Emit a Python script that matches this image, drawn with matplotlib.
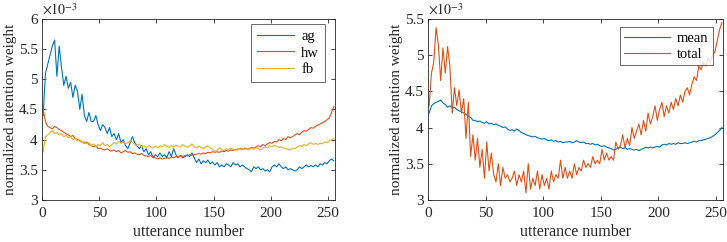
import numpy as np
import matplotlib
matplotlib.use('Agg')
import matplotlib.pyplot as plt

plt.rcParams['font.family'] = ['Liberation Serif', 'DejaVu Serif']
plt.rcParams['mathtext.fontset'] = 'stix'

# utterance index, every second utterance
utt = np.arange(1, 257, 2)

# left panel, values in units of 1e-3
ag = [4.40, 5.10, 5.25, 5.40, 5.55, 5.65, 5.05, 5.55, 5.20, 4.90,
      5.05, 4.85, 4.95, 4.70, 4.90, 4.80, 4.50, 4.75, 4.40, 4.30,
      4.45, 4.30, 4.30, 4.40, 4.25, 4.15, 4.25, 4.20, 4.10, 4.20,
      4.05, 4.10, 4.00, 4.10, 3.95, 4.00, 3.90, 3.85, 3.95, 4.05,
      3.95, 3.90, 3.85, 3.90, 3.80, 3.85, 3.75, 3.80, 3.70, 3.75,
      3.72, 3.78, 3.72, 3.75, 3.70, 3.80, 3.72, 3.85, 3.75, 3.70,
      3.74, 3.70, 3.72, 3.75, 3.72, 3.78, 3.70, 3.62, 3.68, 3.60,
      3.65, 3.62, 3.66, 3.60, 3.63, 3.58, 3.62, 3.55, 3.58, 3.55,
      3.60, 3.58, 3.55, 3.62, 3.58, 3.60, 3.55, 3.58, 3.55, 3.52,
      3.50, 3.47, 3.55, 3.52, 3.55, 3.50, 3.52, 3.48, 3.50, 3.47,
      3.55, 3.58, 3.55, 3.60, 3.55, 3.52, 3.55, 3.50, 3.52, 3.50,
      3.48, 3.50, 3.55, 3.52, 3.55, 3.58, 3.55, 3.57, 3.55, 3.58,
      3.55, 3.60, 3.58, 3.62, 3.60, 3.65, 3.68, 3.65]

hw = [4.50, 4.30, 4.22, 4.20, 4.18, 4.22, 4.20, 4.17, 4.15, 4.12,
      4.10, 4.08, 4.05, 4.07, 4.02, 4.00, 3.98, 3.96, 3.94, 3.96,
      3.92, 3.90, 3.88, 3.90, 3.85, 3.86, 3.84, 3.83, 3.85, 3.82,
      3.81, 3.83, 3.80, 3.82, 3.78, 3.80, 3.82, 3.79, 3.80, 3.77,
      3.78, 3.76, 3.75, 3.77, 3.74, 3.73, 3.72, 3.74, 3.71, 3.70,
      3.68, 3.70, 3.68, 3.69, 3.70, 3.69, 3.71, 3.70, 3.72, 3.71,
      3.73, 3.72, 3.74, 3.73, 3.75, 3.74, 3.75, 3.76, 3.77, 3.76,
      3.78, 3.77, 3.79, 3.78, 3.80, 3.79, 3.80, 3.79, 3.81, 3.80,
      3.82, 3.81, 3.83, 3.82, 3.84, 3.83, 3.85, 3.84, 3.86, 3.85,
      3.84, 3.87, 3.86, 3.88, 3.90, 3.88, 3.92, 3.90, 3.93, 3.95,
      3.94, 3.97, 3.96, 4.00, 3.98, 4.02, 4.00, 4.05, 4.03, 4.05,
      4.08, 4.10, 4.08, 4.12, 4.15, 4.14, 4.17, 4.20, 4.19, 4.22,
      4.24, 4.26, 4.28, 4.30, 4.33, 4.36, 4.45, 4.55]

fb = [3.80, 4.05, 4.08, 4.12, 4.15, 4.10, 4.12, 4.08, 4.10, 4.05,
      4.07, 4.03, 4.05, 4.00, 4.02, 3.98, 4.00, 3.95, 3.97, 3.93,
      3.95, 3.90, 3.93, 3.88, 3.92, 3.90, 3.95, 3.90, 3.92, 3.88,
      3.92, 3.95, 3.93, 3.97, 3.94, 3.96, 3.93, 3.95, 3.98, 3.96,
      3.92, 3.90, 3.93, 3.88, 3.90, 3.87, 3.90, 3.88, 3.86, 3.89,
      3.87, 3.90, 3.88, 3.92, 3.89, 3.87, 3.90, 3.88, 3.91, 3.89,
      3.88, 3.92, 3.89, 3.87, 3.90, 3.93, 3.88, 3.86, 3.89, 3.87,
      3.85, 3.88, 3.90, 3.86, 3.84, 3.80, 3.83, 3.86, 3.84, 3.82,
      3.85, 3.83, 3.86, 3.84, 3.82, 3.85, 3.83, 3.86, 3.84, 3.85,
      3.83, 3.86, 3.84, 3.87, 3.85, 3.83, 3.86, 3.88, 3.86, 3.90,
      3.88, 3.91, 3.89, 3.87, 3.88, 3.86, 3.85, 3.84, 3.83, 3.86,
      3.85, 3.88, 3.90, 3.89, 3.92, 3.90, 3.93, 3.95, 3.92, 3.94,
      3.92, 3.94, 3.93, 3.96, 3.95, 3.98, 4.00, 4.02]

# right panel
mean = [4.20, 4.30, 4.33, 4.35, 4.36, 4.38, 4.34, 4.32, 4.28, 4.30,
        4.27, 4.28, 4.25, 4.23, 4.22, 4.20, 4.18, 4.16, 4.14, 4.10,
        4.10, 4.08, 4.09, 4.07, 4.06, 4.08, 4.05, 4.06, 4.04, 4.05,
        4.03, 4.02, 4.00, 4.01, 3.98, 3.96, 3.97, 3.95, 3.98, 3.96,
        3.93, 3.92, 3.90, 3.89, 3.88, 3.87, 3.88, 3.86, 3.85, 3.84,
        3.85, 3.83, 3.82, 3.83, 3.81, 3.82, 3.80, 3.81, 3.79, 3.80,
        3.80, 3.81, 3.79, 3.80, 3.82, 3.80, 3.79, 3.80, 3.78, 3.78,
        3.77, 3.78, 3.76, 3.77, 3.75, 3.74, 3.75, 3.73, 3.72, 3.71,
        3.69, 3.70, 3.72, 3.73, 3.71, 3.72, 3.70, 3.71, 3.70, 3.69,
        3.70, 3.68, 3.70, 3.71, 3.73, 3.72, 3.73, 3.72, 3.73, 3.74,
        3.73, 3.76, 3.77, 3.76, 3.78, 3.77, 3.78, 3.77, 3.79, 3.78,
        3.78, 3.79, 3.78, 3.79, 3.80, 3.81, 3.80, 3.82, 3.82, 3.83,
        3.84, 3.85, 3.86, 3.88, 3.90, 3.93, 3.96, 4.00]

total = [4.30, 4.75, 4.90, 5.38, 5.15, 4.65, 5.10, 4.75, 5.12, 4.85,
         4.20, 4.55, 4.30, 4.52, 4.20, 4.40, 3.85, 4.35, 3.60, 3.90,
         3.55, 3.85, 3.45, 3.70, 3.30, 3.80, 3.40, 3.65, 3.35, 3.25,
         3.50, 3.20, 3.45, 3.30, 3.35, 3.25, 3.30, 3.40, 3.20, 3.35,
         3.25, 3.40, 3.10, 3.50, 3.15, 3.30, 3.20, 3.40, 3.15, 3.35,
         3.20, 3.30, 3.15, 3.40, 3.25, 3.35, 3.30, 3.55, 3.30, 3.45,
         3.30, 3.40, 3.30, 3.50, 3.35, 3.45, 3.40, 3.55, 3.45, 3.50,
         3.45, 3.60, 3.50, 3.55, 3.50, 3.70, 3.55, 3.65, 3.55, 3.60,
         3.55, 3.80, 3.70, 3.75, 3.90, 3.72, 3.85, 3.75, 4.00, 3.85,
         3.95, 4.05, 3.90, 4.10, 3.95, 4.20, 4.05, 4.15, 4.30, 4.10,
         4.25, 4.35, 4.15, 4.30, 4.20, 4.35, 4.25, 4.40, 4.30, 4.45,
         4.35, 4.50, 4.55, 4.45, 4.60, 4.70, 4.65, 4.85, 4.80, 4.90,
         4.85, 4.95, 4.90, 5.00, 5.05, 5.20, 5.35, 5.45]

c_blue = '#0072BD'
c_orange = '#D95319'
c_yellow = '#EDB120'
text_col = '#262626'


def style_axes(ax, ymin, ymax, yticks, yticklabels):
    ax.set_xlim(0, 256)
    ax.set_ylim(ymin, ymax)
    ax.set_xticks([0, 50, 100, 150, 200, 250])
    ax.set_yticks(yticks)
    ax.set_yticklabels(yticklabels)
    ax.tick_params(direction='in', top=True, right=True, length=3,
                   width=0.6, labelsize=11, colors=text_col)
    ax.tick_params(axis='x', pad=5)
    ax.tick_params(axis='y', pad=3)
    for s in ax.spines.values():
        s.set_linewidth(0.6)
        s.set_color(text_col)
    ax.set_xlabel('utterance number', fontsize=11.5, color=text_col,
                  labelpad=3)
    ax.set_ylabel('normalized attention weight', fontsize=11,
                  color=text_col, labelpad=1)
    ax.text(0.0, 1.01, r'$\times 10^{-3}$', transform=ax.transAxes,
            fontsize=10, color=text_col, ha='left', va='bottom')


fig = plt.figure(figsize=(7.27, 2.42), dpi=100)

ax1 = fig.add_axes([0.0578, 0.1736, 0.403, 0.748])
ax1.plot(utt, ag, color=c_blue, lw=0.8, label='ag')
ax1.plot(utt, hw, color=c_orange, lw=0.8, label='hw')
ax1.plot(utt, fb, color=c_yellow, lw=0.8, label='fb')
style_axes(ax1, 3, 6, [3, 3.5, 4, 4.5, 5, 5.5, 6],
           ['3', '3.5', '4', '4.5', '5', '5.5', '6'])
lg1 = ax1.legend(loc='upper right', bbox_to_anchor=(0.965, 0.97),
                 fontsize=10.5, frameon=True, fancybox=False,
                 edgecolor=text_col, handlelength=2.5, handletextpad=0.5,
                 borderpad=0.4, labelspacing=0.2, borderaxespad=0)
lg1.get_frame().set_linewidth(0.6)

ax2 = fig.add_axes([0.5887, 0.1736, 0.4058, 0.748])
ax2.plot(utt, mean, color=c_blue, lw=0.8, label='mean')
ax2.plot(utt, total, color=c_orange, lw=0.8, label='total')
style_axes(ax2, 3, 5.5, [3, 3.5, 4, 4.5, 5, 5.5],
           ['3', '3.5', '4', '4.5', '5', '5.5'])
lg2 = ax2.legend(loc='upper right', bbox_to_anchor=(0.965, 0.955),
                 fontsize=10.5, frameon=True, fancybox=False,
                 edgecolor=text_col, handlelength=3.1, handletextpad=0.5,
                 borderpad=0.3, labelspacing=0.2, borderaxespad=0)
lg2.get_frame().set_linewidth(0.6)

fig.savefig('out.png', dpi=100)
